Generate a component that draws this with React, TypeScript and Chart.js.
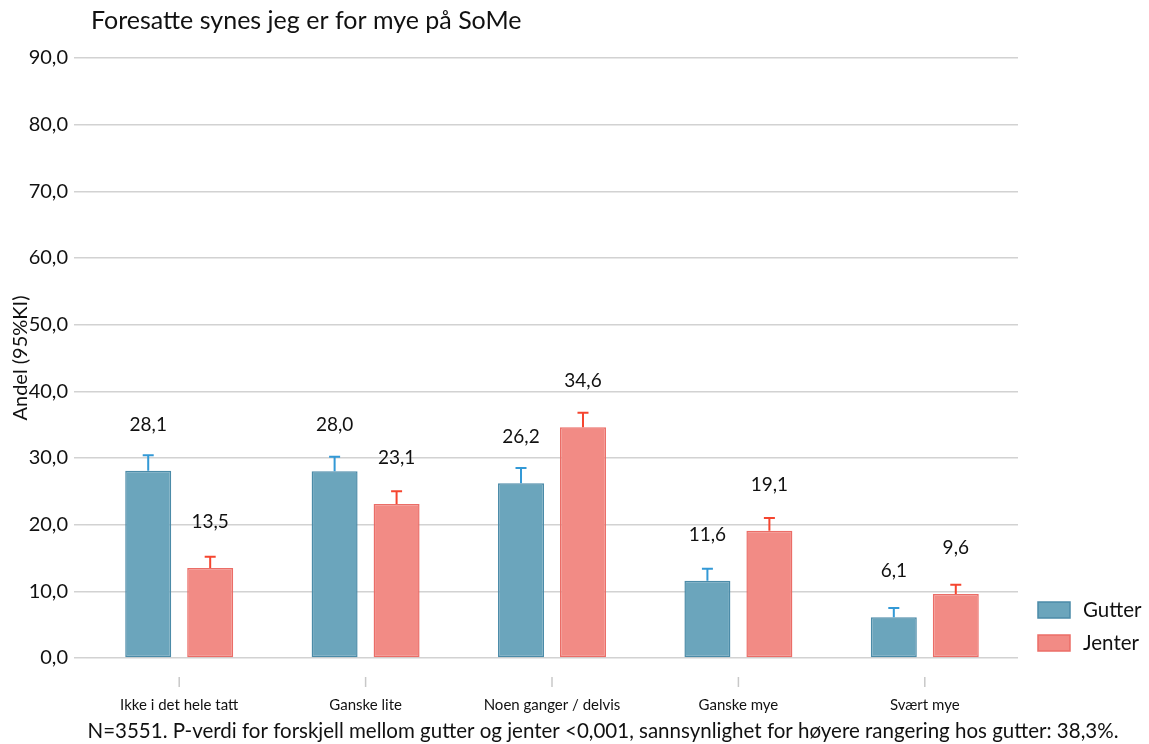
import React, { useEffect, useRef } from "react";
import { Chart, registerables } from "chart.js";

Chart.register(...registerables);

const FONT = "Lato, 'Noto Sans', sans-serif";

const categories = [
  "Ikke i det hele tatt",
  "Ganske lite",
  "Noen ganger / delvis",
  "Ganske mye",
  "Svært mye",
];
const seriesNames = ["Gutter", "Jenter"];
const gutterValues = [28.1, 28.0, 26.2, 11.6, 6.1];
const jenterValues = [13.5, 23.1, 34.6, 19.1, 9.6];
// upper bound of the 95% confidence interval
const gutterUpper = [30.4, 30.2, 28.5, 13.4, 7.5];
const jenterUpper = [15.2, 25.0, 36.8, 21.0, 11.0];
const yTickValues = [0, 10, 20, 30, 40, 50, 60, 70, 80, 90];

const titleText = "Foresatte synes jeg er for mye på SoMe";
const yAxisTitle = "Andel (95%KI)";
const footnoteText =
  "N=3551. P-verdi for forskjell mellom gutter og jenter <0,001, sannsynlighet for høyere rangering hos gutter: 38,3%.";

const fillColors = ["#6ba5bc", "#f28b85"];
const borderColors = ["#4b8ba8", "#eb6d67"];
const errorColors = ["#3399d6", "#f5452f"];

const fmt = (v: number) => v.toFixed(1).replace(".", ",");

const decorations = {
  id: "decorations",
  afterDatasetsDraw(chart: any) {
    const { ctx, chartArea, scales } = chart;
    const y = scales.y;
    const x = scales.x;
    const uppers = [gutterUpper, jenterUpper];

    ctx.save();
    // error bars (upper half) and value labels
    chart.data.datasets.forEach((ds: any, di: number) => {
      const meta = chart.getDatasetMeta(di);
      meta.data.forEach((bar: any, i: number) => {
        const top = y.getPixelForValue(uppers[di][i]);
        const base = y.getPixelForValue(ds.data[i]);
        ctx.strokeStyle = errorColors[di];
        ctx.lineWidth = 2;
        ctx.beginPath();
        ctx.moveTo(bar.x, base);
        ctx.lineTo(bar.x, top);
        ctx.moveTo(bar.x - 5.5, top);
        ctx.lineTo(bar.x + 5.5, top);
        ctx.stroke();

        ctx.fillStyle = "#111";
        ctx.font = `19px ${FONT}`;
        ctx.textAlign = "center";
        ctx.textBaseline = "middle";
        ctx.fillText(fmt(ds.data[i]), bar.x, base - 46);
      });
    });

    // category tick marks
    ctx.strokeStyle = "#c8c8c8";
    ctx.lineWidth = 1.5;
    categories.forEach((_, i) => {
      const px = x.getPixelForValue(i);
      ctx.beginPath();
      ctx.moveTo(px, chartArea.bottom + 19);
      ctx.lineTo(px, chartArea.bottom + 29);
      ctx.stroke();
    });

    // legend
    chart.data.datasets.forEach((ds: any, di: number) => {
      const bx = chartArea.right + 20;
      const cy = chartArea.bottom - 48 + di * 33;
      ctx.fillStyle = fillColors[di];
      ctx.strokeStyle = borderColors[di];
      ctx.lineWidth = 1.5;
      ctx.fillRect(bx, cy - 8, 32, 16);
      ctx.strokeRect(bx, cy - 8, 32, 16);
      ctx.fillStyle = "#111";
      ctx.font = `20.5px ${FONT}`;
      ctx.textAlign = "left";
      ctx.textBaseline = "middle";
      ctx.fillText(ds.label, bx + 45, cy);
    });

    // title
    ctx.fillStyle = "#111";
    ctx.font = `25px ${FONT}`;
    ctx.textAlign = "left";
    ctx.textBaseline = "middle";
    ctx.fillText(titleText, 91, 21);

    // footnote
    ctx.font = `20.5px ${FONT}`;
    ctx.textAlign = "center";
    ctx.fillText(footnoteText, 603, 731);
    ctx.restore();
  },
};

export default function App() {
  const canvasRef = useRef<HTMLCanvasElement | null>(null);

  useEffect(() => {
    if (!canvasRef.current) return;
    const chart = new Chart(canvasRef.current, {
      type: "bar",
      data: {
        labels: categories,
        datasets: [
          {
            label: seriesNames[0],
            data: gutterValues,
            backgroundColor: fillColors[0],
            borderColor: borderColors[0],
            borderWidth: 1.5,
            borderSkipped: false,
          },
          {
            label: seriesNames[1],
            data: jenterValues,
            backgroundColor: fillColors[1],
            borderColor: borderColors[1],
            borderWidth: 1.5,
            borderSkipped: false,
          },
        ],
      },
      options: {
        animation: false,
        responsive: false,
        maintainAspectRatio: false,
        layout: { padding: { left: 0, right: 131, top: 58, bottom: 10 } },
        datasets: { bar: { categoryPercentage: 0.665, barPercentage: 0.742 } },
        plugins: {
          legend: { display: false },
          title: { display: false },
          tooltip: { enabled: false },
        },
        scales: {
          x: {
            grid: { display: false },
            border: { display: false },
            ticks: {
              padding: 30,
              color: "#111",
              font: { family: FONT, size: 15 },
              maxRotation: 0,
              autoSkip: false,
            },
            afterFit(scale: any) {
              scale.height = 76;
            },
          },
          y: {
            min: 0,
            max: 90,
            afterBuildTicks(scale: any) {
              scale.ticks = yTickValues.map((v) => ({ value: v }));
            },
            grid: { color: "#d2d2d2", lineWidth: 1.5, tickLength: 12, drawTicks: true },
            border: { display: false },
            ticks: {
              padding: 6,
              color: "#111",
              font: { family: FONT, size: 20 },
              callback: (v: any) => fmt(Number(v)),
            },
            title: {
              display: true,
              text: yAxisTitle,
              color: "#111",
              font: { family: FONT, size: 20 },
              padding: { top: 9, bottom: 0 },
            },
            afterFit(scale: any) {
              scale.width = 86;
            },
          },
        },
      },
      plugins: [decorations],
    });
    return () => chart.destroy();
  }, []);

  return (
    <div style={{ position: "fixed", left: 0, top: 0, width: 1149, height: 744, background: "#fff" }}>
      <canvas ref={canvasRef} width={1149} height={744} />
    </div>
  );
}
